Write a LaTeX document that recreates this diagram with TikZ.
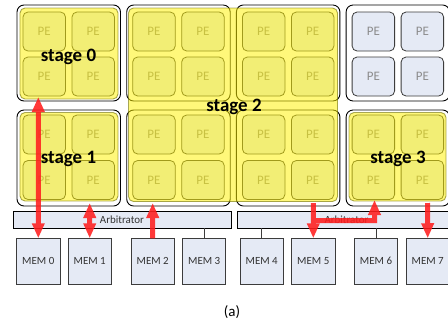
\documentclass[tikz,border=0pt]{standalone}
\usepackage{fontspec}
\setmainfont{Carlito}
\usetikzlibrary{arrows.meta}
\definecolor{pefill}{RGB}{229,234,245}
\definecolor{pedraw}{RGB}{60,60,60}
\definecolor{petext}{RGB}{140,140,140}
\definecolor{arrred}{RGB}{255,30,30}
\definecolor{olivedraw}{RGB}{110,110,0}
\begin{document}
\begin{tikzpicture}[x=1bp,y=-1bp,
  tilebox/.style={draw=black, fill=white, rounded corners=7bp, line width=0.9bp, minimum width=103.5bp, minimum height=96bp, inner sep=0},
  pebox/.style={draw=pedraw, fill=pefill, rounded corners=5bp, line width=0.8bp, minimum width=42.5bp, minimum height=39bp, inner sep=0, text=petext, font=\fontsize{13}{13}\selectfont},
  gridline/.style={draw=pedraw, line width=0.7bp},
  arbbox/.style={draw=black, fill=pefill, line width=0.8bp, minimum height=17bp, inner sep=0, text=black!80, font=\fontsize{11}{11}\selectfont},
  membox/.style={draw=pedraw, fill=pefill, line width=0.8bp, minimum width=43.3bp, minimum height=45.3bp, inner sep=0, text=black!80, font=\fontsize{11}{11}\selectfont},
  stagebox/.style={fill=yellow, fill opacity=0.52, draw=olivedraw, draw opacity=0.6, line width=0.9bp, rounded corners=5bp, inner sep=0},
  stagelabel/.style={font=\bfseries\fontsize{19}{19}\selectfont, anchor=base, inner sep=0},
  redline/.style={draw=arrred, line width=5bp},
  >={Triangle[width=12bp,length=15bp]}
]
\clip (0,0) rectangle (448,327);
% tiles
\foreach \i/\tx in {0/68.75,1/178.45,2/288.15,3/397.85}
  \foreach \j/\ty in {0/53,1/158}
    \node[tilebox] (tile-\i-\j) at (\tx,\ty) {};
% PEs
\foreach \c/\px in {0/44.25,1/93.25,2/153.95,3/202.95,4/263.65,5/312.65,6/373.35,7/422.35}
  \foreach \r/\py in {0/31.5,1/76.5,2/134.5,3/180}
    \node[pebox] (pe-\c-\r) at (\px,\py) {PE};
% grid links
\foreach \r in {0,1,2,3}
  \foreach \c [evaluate=\c as \n using int(\c+1)] in {0,...,6}
    \draw[gridline] (pe-\c-\r) -- (pe-\n-\r);
\foreach \c in {0,...,7}
  \foreach \r [evaluate=\r as \n using int(\r+1)] in {0,1,2}
    \draw[gridline] (pe-\c-\r) -- (pe-\c-\n);
% arbitrators
\node[arbbox, minimum width=218bp] (arbL) at (122,219.5) {Arbitrator};
\node[arbbox, minimum width=219bp] (arbR) at (346.5,219.5) {Arbitrator};
% memories
\foreach \m/\mx in {0/38.3,1/89.7,2/152.7,3/204.2,4/261.7,5/313.3,6/376,7/427.7}
  \node[membox] (mem\m) at (\mx,261.3) {MEM \m};
\draw[gridline] (mem3.north) -- (mem3.north |- arbL.south);
\draw[gridline] (mem4.north) -- (mem4.north |- arbR.south);
\draw[gridline] (mem6.north) -- (mem6.north |- arbR.south);
% stage overlays
\node[stagebox, minimum width=98bp, minimum height=91bp] (ov0) at (69,53.5) {};
\node[stagebox, minimum width=98bp, minimum height=88.5bp] (ov1) at (69,156.75) {};
\node[stagebox, minimum width=209bp, minimum height=193.5bp] (ov2) at (233,104.75) {};
\node[stagebox, minimum width=97bp, minimum height=88.5bp] (ov3) at (397.5,156.75) {};
% red arrows
\coordinate (a1) at (38.3,97);
\coordinate (a2) at (89.7,203);
\coordinate (a3) at (152.7,203);
\coordinate (a4) at (313.3,203);
\coordinate (a4j) at (313.3,220.5);
\coordinate (a4c) at (374.5,220.5);
\coordinate (a4t) at (374.5,200);
\coordinate (a5) at (427.5,203);
\begin{scope}[transparency group, opacity=0.88]
\draw[redline,<->] (a1) -- (mem0.north);
\draw[redline,<->] (a2) -- (mem1.north);
\draw[redline,->] (mem2.north) -- (a3);
\draw[redline,->] (a4) -- (mem5.north);
\draw[redline,->] (a4j) -- (a4c) -- (a4t);
\draw[redline,->] (a5) -- (mem7.north);
\end{scope}
% stage labels
\node[stagelabel] (s0) at (68.5,61) {stage 0};
\node[stagelabel] (s1) at (68.5,163.3) {stage 1};
\node[stagelabel] (s2) at (234,111.5) {stage 2};
\node[stagelabel] (s3) at (398,163.3) {stage 3};
\node[font=\fontsize{15}{15}\selectfont, inner sep=0] (cap) at (232,312) {(a)};
\end{tikzpicture}
\end{document}
